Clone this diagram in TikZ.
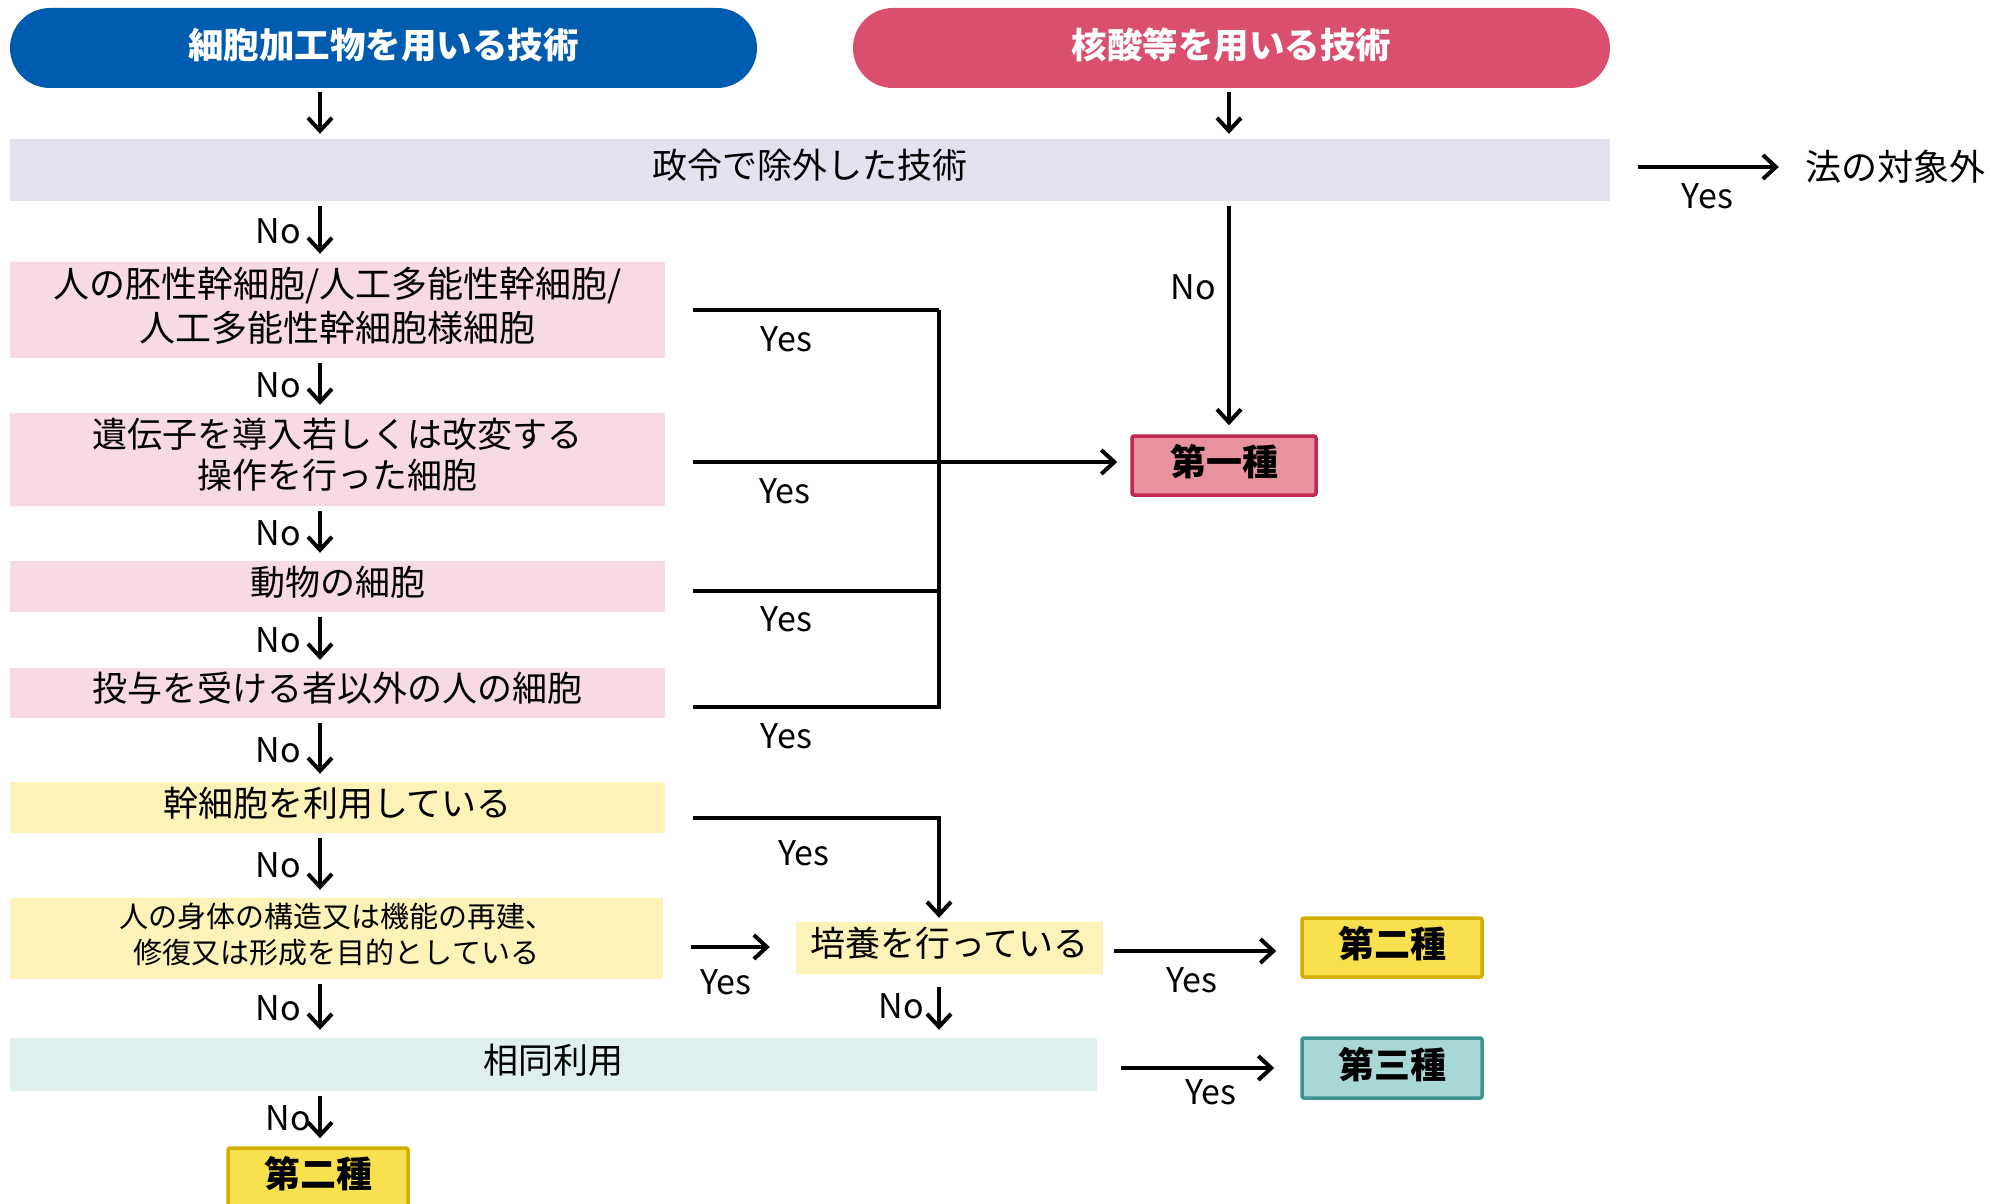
\documentclass[tikz,border=0pt]{standalone}
\usepackage{fontspec}
\setmainfont{Noto Sans CJK JP}
\usepackage{xcolor}
\usetikzlibrary{arrows.meta, positioning, calc}

\definecolor{techblue}{HTML}{005CAF}
\definecolor{techpink}{HTML}{DA4F6E}
\definecolor{exclgrey}{HTML}{E3E2EE}
\definecolor{cellpink}{HTML}{F7DAE2}
\definecolor{stemyellow}{HTML}{FDF2B8}
\definecolor{homolteal}{HTML}{DFF0EF}
\definecolor{firstfill}{HTML}{E8919F}
\definecolor{firstdraw}{HTML}{C0284F}
\definecolor{secondfill}{HTML}{F9E04F}
\definecolor{seconddraw}{HTML}{D3B000}
\definecolor{thirdfill}{HTML}{A8D8D5}
\definecolor{thirddraw}{HTML}{3F9490}

\begin{document}
\begin{tikzpicture}[
    x=1pt, y=-1pt,
    header/.style={rectangle, rounded corners=40pt, text=white, minimum height=80pt, inner sep=0pt, text depth=10pt, font=\fontsize{35.5}{40}\selectfont\bfseries},
    question/.style={rectangle, minimum width=655pt, inner sep=0pt, text depth=12pt, align=center, font=\fontsize{35}{44}\selectfont},
    kind/.style={rectangle, rounded corners=2pt, line width=3.5pt, minimum width=180pt, minimum height=59pt, inner sep=0pt, text depth=11pt, font=\fontsize{36}{40}\selectfont\bfseries},
    lab/.style={font=\fontsize{34}{40}\selectfont},
    yes/.style={lab, anchor=north, yshift=-11pt, pos=0.38},
    no/.style={lab, anchor=east, xshift=-14pt, midway},
    arrow/.style={-{Straight Barb[length=13pt,width=24pt]}, line width=4pt},
    bus/.style={line width=4pt},
    nogap/.style={shorten <=5pt, shorten >=8pt}
]
\useasboundingbox (0,0) rectangle (1998,1204);

% Starting points
\node[header, fill=techblue, minimum width=747pt] (techA) at (383.5,48) {細胞加工物を用いる技術};
\node[header, fill=techpink, minimum width=757pt] (techB) at (1231.5,48) {核酸等を用いる技術};

% Excluded by ordinance
\node[question, fill=exclgrey, minimum width=1600pt, minimum height=62pt] (excl) at (810,170) {政令で除外した技術};
\node[lab, inner sep=0pt, font=\fontsize{36}{40}\selectfont] (notcov) at (1895,167) {法の対象外};

% Left column
\node[question, fill=cellpink, minimum height=96pt, font=\fontsize{36}{44}\selectfont] (qES) at (337.5,310) {人の胚性幹細胞/人工多能性幹細胞/\\人工多能性幹細胞様細胞};
\node[question, fill=cellpink, minimum height=93pt, font=\fontsize{35}{41}\selectfont] (qGene) at (337.5,459.5) {遺伝子を導入若しくは改変する\\操作を行った細胞};
\node[question, fill=cellpink, minimum height=51pt] (qAnimal) at (337.5,586.5) {動物の細胞};
\node[question, fill=cellpink, minimum height=50pt] (qOther) at (337.5,693) {投与を受ける者以外の人の細胞};
\node[question, fill=stemyellow, minimum height=51pt] (qStem) at (337.5,807.5) {幹細胞を利用している};
\node[question, fill=stemyellow, minimum width=653pt, minimum height=81pt, text depth=10pt, font=\fontsize{29}{36}\selectfont] (qRegen) at (336.5,938.5) {人の身体の構造又は機能の再建、\\修復又は形成を目的としている};
\node[question, fill=stemyellow, minimum width=307pt, minimum height=52pt] (culture) at (949.5,948) {培養を行っている};
\node[question, fill=homolteal, minimum width=1087pt, minimum height=53pt] (homol) at (553.5,1064.5) {相同利用};

% Classes
\node[kind, fill=firstfill, draw=firstdraw, minimum width=184pt] (cls1) at (1224,465.5) {第一種};
\node[kind, fill=secondfill, draw=seconddraw] (cls2r) at (1392,947.5) {第二種};
\node[kind, fill=thirdfill, draw=thirddraw, minimum height=60pt] (cls3) at (1392,1068) {第三種};
\node[kind, fill=secondfill, draw=seconddraw] (cls2b) at (318,1177.5) {第二種};

% Columns of the vertical arrows
\coordinate (colA) at (320,0);
\coordinate (colB) at (1229,0);
\coordinate (busTop) at (939,310);

% Arrows from the headers
\draw[arrow, shorten <=4pt, shorten >=5pt] (techA.south -| colA) -- (excl.north -| colA);
\draw[arrow, shorten <=4pt, shorten >=5pt] (techB.south -| colB) -- (excl.north -| colB);
\draw[arrow, shorten <=28pt, shorten >=26pt] (notcov.west -| excl.east) -- node[yes, pos=0.5]{Yes} (notcov.west);
\draw[arrow, shorten <=5pt, shorten >=9pt] (excl.south -| colB) -- node[no, pos=0.37, xshift=6pt]{No} (cls1.north -| colB);

% No chain
\draw[arrow, nogap] (excl.south -| colA) -- node[no]{No} (qES.north -| colA);
\draw[arrow, nogap] (qES.south -| colA) -- node[no]{No} (qGene.north -| colA);
\draw[arrow, nogap] (qGene.south -| colA) -- node[no]{No} (qAnimal.north -| colA);
\draw[arrow, nogap] (qAnimal.south -| colA) -- node[no]{No} (qOther.north -| colA);
\draw[arrow, nogap] (qOther.south -| colA) -- node[no]{No} (qStem.north -| colA);
\draw[arrow, nogap] (qStem.south -| colA) -- node[no]{No} (qRegen.north -| colA);
\draw[arrow, nogap] (qRegen.south -| colA) -- node[no]{No} (homol.north -| colA);
\draw[arrow, nogap] (homol.south -| colA) -- node[no, xshift=10pt]{No} (cls2b.north -| colA);

% Yes lines to the first class
\coordinate (geneOut) at ($(qGene.east)+(28,2.5)$);
\coordinate (animalOut) at ($(qAnimal.east)+(28,4)$);
\coordinate (otherOut) at ($(qOther.east)+(28,14)$);
\draw[bus] ($(qES.east)+(28,0)$) -- node[yes]{Yes} (busTop);
\draw[bus] (animalOut) -- node[yes]{Yes} (animalOut -| busTop);
\draw[bus] (otherOut) -- node[yes]{Yes} (otherOut -| busTop) -- (busTop);
\draw[arrow, shorten >=13pt] (geneOut) -- node[yes, pos=0.21]{Yes} (geneOut -| cls1.west);

% Stem cells and culture
\coordinate (stemOut) at ($(qStem.east)+(28,10.5)$);
\coordinate (regenOut) at ($(qRegen.east)+(28,8.5)$);
\coordinate (cultureOut) at ($(culture.east)+(0,3)$);
\draw[arrow, shorten >=4pt] (stemOut) -- node[yes, pos=0.45, yshift=-6pt]{Yes} (stemOut -| busTop) -- (culture.north -| busTop);
\draw[arrow, shorten >=26pt] (regenOut) -- node[yes, pos=0.33, yshift=-6pt]{Yes} (regenOut -| culture.west);
\draw[arrow, shorten <=11pt, shorten >=24pt] (cultureOut) -- node[yes, pos=0.45]{Yes} (cultureOut -| cls2r.west);
\draw[arrow, shorten <=13pt, shorten >=8pt] (culture.south -| busTop) -- node[no, xshift=4pt]{No} (homol.north -| busTop);
\draw[arrow, shorten <=24pt, shorten >=26pt] (cls3.west -| homol.east) -- node[yes, pos=0.56, yshift=5pt]{Yes} (cls3.west);

\end{tikzpicture}
\end{document}
